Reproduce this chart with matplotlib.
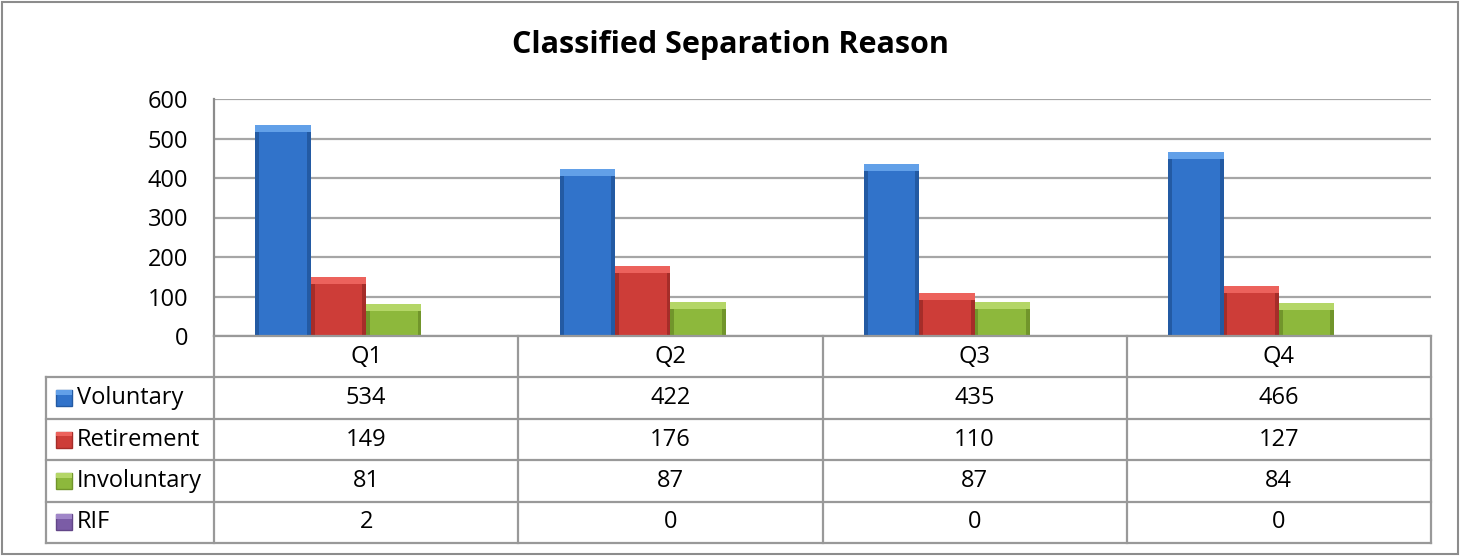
import numpy as np
import matplotlib.pyplot as plt
from matplotlib.patches import Rectangle

# Quarterly separations by reason
quarters = ['Q1', 'Q2', 'Q3', 'Q4']
series_names = ['Voluntary', 'Retirement', 'Involuntary', 'RIF']
voluntary = [534, 422, 435, 466]
retirement = [149, 176, 110, 127]
involuntary = [81, 87, 87, 84]
rif = [2, 0, 0, 0]
yticks = [0, 100, 200, 300, 400, 500, 600]

series = [voluntary, retirement, involuntary, rif]
body_colors = ['#3173ca', '#cd3d38', '#8db83c', '#7b5ca6']
cap_colors = ['#62a0e8', '#ec625c', '#b4d667', '#a086c8']
side_colors = ['#235aa3', '#a52d29', '#71952b', '#624688']

plt.rcParams['font.family'] = ['Open Sans', 'DejaVu Sans']
FS = 17

fig = plt.figure(figsize=(14.6, 5.56), dpi=100)
W, H = 1460, 556

def px_axes(x0, y0, x1, y1):
    return fig.add_axes([x0 / W, 1 - y1 / H, (x1 - x0) / W, (y1 - y0) / H])

# outer chart border
fig.patches.append(Rectangle((2 / W, 2 / H), 1 - 4 / W, 1 - 4 / H,
                             transform=fig.transFigure, fill=False,
                             edgecolor='#8c8c8c', lw=1.5))

fig.text(730 / W, 1 - 45 / H, 'Classified Separation Reason',
         ha='center', va='center', fontsize=22, fontweight='bold')

# bar area
ax = px_axes(214, 99, 1431, 336)
x = np.arange(len(quarters))
n = len(series)
bw = 1 / (n + 1.5)
cap = 7 * 600 / 237
side = bw * 0.07
for i, vals in enumerate(series):
    pos = x + (i - (n - 1) / 2) * bw
    vals = np.array(vals, dtype=float)
    ax.bar(pos, vals, bw, color=body_colors[i], linewidth=0, zorder=3)
    # darker bevel on both sides
    ax.bar(pos - bw / 2 + side / 2, vals, side, color=side_colors[i],
           linewidth=0, zorder=4)
    ax.bar(pos + bw / 2 - side / 2, vals, side, color=side_colors[i],
           linewidth=0, zorder=4)
    # lighter bevel on top
    caps = np.minimum(vals, cap)
    ax.bar(pos, caps, bw, bottom=vals - caps, color=cap_colors[i],
           linewidth=0, zorder=5)

ax.set_xlim(-0.5, len(quarters) - 0.5)
ax.set_ylim(0, 600)
ax.set_yticks(yticks)
ax.set_yticklabels([str(t) for t in yticks], fontsize=FS)
ax.tick_params(axis='y', length=0, pad=18.5)
ax.set_xticks([])
ax.yaxis.grid(True, color='#a6a6a6', lw=1.6, zorder=0)
for s in ['top', 'right', 'bottom']:
    ax.spines[s].set_visible(False)
ax.spines['left'].set_color('#8c8c8c')
ax.spines['left'].set_linewidth(1.6)

# data table under the bars
col_px = (1431 - 214) / len(quarters)
lab_w = (214 - 46) / col_px
tax = px_axes(46, 336, 1431, 543)
tax.set_xlim(-0.5 - lab_w, len(quarters) - 0.5)
tax.set_ylim(len(series) + 1, 0)
tax.axis('off')
lc = '#999999'
lw = 1.6
left = -0.5 - lab_w
right = len(quarters) - 0.5
nrows = len(series) + 1
row_px = (543 - 336) / nrows
# horizontal rules
tax.plot([-0.5, right], [0, 0], color=lc, lw=lw, clip_on=False)
for r in range(1, nrows + 1):
    tax.plot([left, right], [r, r], color=lc, lw=lw, clip_on=False)
# vertical rules
tax.plot([left, left], [1, nrows], color=lc, lw=lw, clip_on=False)
for c in range(len(quarters) + 1):
    tax.plot([c - 0.5, c - 0.5], [0, nrows], color=lc, lw=lw, clip_on=False)

for j, q in enumerate(quarters):
    tax.text(j, 0.5, q, ha='center', va='center', fontsize=FS)

mk_w = 16 / col_px
mk_h = 16 / row_px
for r, (name, vals) in enumerate(zip(series_names, series)):
    yc = r + 1.5
    mx = left + 10 / col_px
    tax.add_patch(Rectangle((mx, yc - mk_h / 2), mk_w, mk_h,
                            facecolor=body_colors[r], edgecolor=side_colors[r],
                            lw=1.0, clip_on=False))
    tax.add_patch(Rectangle((mx, yc - mk_h / 2), mk_w, mk_h * 0.3,
                            facecolor=cap_colors[r], lw=0, clip_on=False))
    tax.text(left + 31 / col_px, yc, name, ha='left', va='center', fontsize=FS)
    for j, v in enumerate(vals):
        tax.text(j, yc, str(v), ha='center', va='center', fontsize=FS)

fig.savefig('out.png', dpi=100)
